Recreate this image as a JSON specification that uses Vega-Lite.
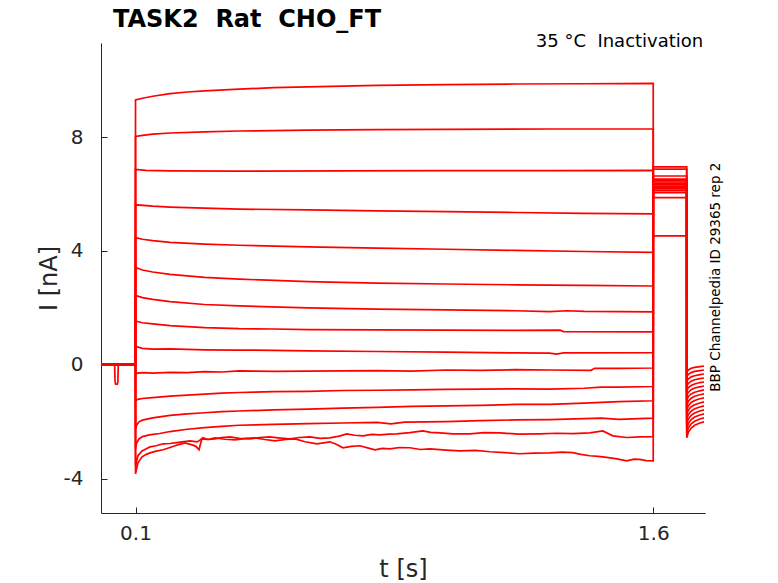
{
  "$schema": "https://vega.github.io/schema/vega-lite/v6.json",
  "width": 604,
  "height": 470,
  "autosize": {"type": "none"},
  "padding": {"left": 101, "top": 43, "right": 73, "bottom": 70},
  "background": "white",
  "config": {"view": {"stroke": null}, "font": "DejaVu Sans"},
  "title": {
    "text": "TASK2\u00a0 Rat\u00a0 CHO_FT",
    "anchor": "start",
    "frame": "group",
    "dx": 12,
    "offset": -18,
    "baseline": "alphabetic",
    "fontSize": 24,
    "fontWeight": "bold",
    "font": "DejaVu Sans",
    "color": "#000000"
  },
  "layer": [
    {
      "data": {"values": [
        {"s":1,"t":0,"v":0.02},{"s":1,"t":0.0395,"v":0.02},{"s":1,"t":0.0405,"v":-0.55},{"s":1,"t":0.042,"v":-0.67},{"s":1,"t":0.047,"v":-0.68},{"s":1,"t":0.049,"v":-0.6},{"s":1,"t":0.05,"v":0.03},{"s":1,"t":0.0999,"v":0.02},
        {"s":1,"t":0.1,"v":9.30},{"s":1,"t":0.12,"v":9.36},{"s":1,"t":0.15,"v":9.43},{"s":1,"t":0.2,"v":9.52},{"s":1,"t":0.25,"v":9.58},{"s":1,"t":0.3,"v":9.62},{"s":1,"t":0.4,"v":9.68},{"s":1,"t":0.5,"v":9.73},{"s":1,"t":0.6,"v":9.76},{"s":1,"t":0.8,"v":9.81},{"s":1,"t":1.0,"v":9.84},{"s":1,"t":1.2,"v":9.86},{"s":1,"t":1.4,"v":9.87},{"s":1,"t":1.6,"v":9.88},
        {"s":1,"t":1.6001,"v":4.47},{"s":1,"t":1.603,"v":4.53},{"s":1,"t":1.697,"v":4.53},{"s":1,"t":1.6971,"v":-0.25},{"s":1,"t":1.702,"v":-0.18},{"s":1,"t":1.71,"v":-0.12},{"s":1,"t":1.72,"v":-0.09},{"s":1,"t":1.735,"v":-0.06},{"s":1,"t":1.747,"v":-0.04},

        {"s":2,"t":0,"v":0.0},{"s":2,"t":0.0999,"v":0.0},
        {"s":2,"t":0.1,"v":8.02},{"s":2,"t":0.12,"v":8.06},{"s":2,"t":0.15,"v":8.10},{"s":2,"t":0.2,"v":8.14},{"s":2,"t":0.3,"v":8.18},{"s":2,"t":0.4,"v":8.21},{"s":2,"t":0.6,"v":8.24},{"s":2,"t":0.8,"v":8.26},{"s":2,"t":1.0,"v":8.27},{"s":2,"t":1.3,"v":8.28},{"s":2,"t":1.6,"v":8.28},
        {"s":2,"t":1.6001,"v":5.87},{"s":2,"t":1.697,"v":5.87},{"s":2,"t":1.6971,"v":-0.415},{"s":2,"t":1.702,"v":-0.33},{"s":2,"t":1.71,"v":-0.27},{"s":2,"t":1.72,"v":-0.23},{"s":2,"t":1.735,"v":-0.2},{"s":2,"t":1.747,"v":-0.18},

        {"s":3,"t":0,"v":0.04},{"s":3,"t":0.0999,"v":0.04},
        {"s":3,"t":0.1,"v":6.86},{"s":3,"t":0.13,"v":6.83},{"s":3,"t":0.2,"v":6.81},{"s":3,"t":0.4,"v":6.80},{"s":3,"t":0.7,"v":6.81},{"s":3,"t":1.0,"v":6.82},{"s":3,"t":1.3,"v":6.82},{"s":3,"t":1.6,"v":6.83},
        {"s":3,"t":1.6001,"v":6.05},{"s":3,"t":1.697,"v":6.05},{"s":3,"t":1.6971,"v":-0.58},{"s":3,"t":1.702,"v":-0.49},{"s":3,"t":1.71,"v":-0.42},{"s":3,"t":1.72,"v":-0.38},{"s":3,"t":1.735,"v":-0.34},{"s":3,"t":1.747,"v":-0.32},

        {"s":4,"t":0,"v":0.02},{"s":4,"t":0.0999,"v":0.02},
        {"s":4,"t":0.1,"v":5.62},{"s":4,"t":0.15,"v":5.57},{"s":4,"t":0.2,"v":5.54},{"s":4,"t":0.3,"v":5.50},{"s":4,"t":0.4,"v":5.47},{"s":4,"t":0.6,"v":5.44},{"s":4,"t":0.8,"v":5.41},{"s":4,"t":1.0,"v":5.38},{"s":4,"t":1.2,"v":5.35},{"s":4,"t":1.4,"v":5.32},{"s":4,"t":1.6,"v":5.30},
        {"s":4,"t":1.6001,"v":6.12},{"s":4,"t":1.697,"v":6.12},{"s":4,"t":1.6971,"v":-0.745},{"s":4,"t":1.702,"v":-0.65},{"s":4,"t":1.71,"v":-0.57},{"s":4,"t":1.72,"v":-0.52},{"s":4,"t":1.735,"v":-0.48},{"s":4,"t":1.747,"v":-0.46},

        {"s":5,"t":0,"v":0.0},{"s":5,"t":0.0999,"v":0.0},
        {"s":5,"t":0.1,"v":4.47},{"s":5,"t":0.12,"v":4.41},{"s":5,"t":0.15,"v":4.36},{"s":5,"t":0.2,"v":4.30},{"s":5,"t":0.3,"v":4.24},{"s":5,"t":0.4,"v":4.20},{"s":5,"t":0.6,"v":4.14},{"s":5,"t":0.8,"v":4.10},{"s":5,"t":1.0,"v":4.06},{"s":5,"t":1.2,"v":4.02},{"s":5,"t":1.4,"v":3.98},{"s":5,"t":1.6,"v":3.95},
        {"s":5,"t":1.6001,"v":6.18},{"s":5,"t":1.697,"v":6.18},{"s":5,"t":1.6971,"v":-0.91},{"s":5,"t":1.702,"v":-0.8},{"s":5,"t":1.71,"v":-0.72},{"s":5,"t":1.72,"v":-0.67},{"s":5,"t":1.735,"v":-0.62},{"s":5,"t":1.747,"v":-0.6},

        {"s":6,"t":0,"v":0.04},{"s":6,"t":0.0999,"v":0.04},
        {"s":6,"t":0.1,"v":3.42},{"s":6,"t":0.12,"v":3.33},{"s":6,"t":0.15,"v":3.26},{"s":6,"t":0.2,"v":3.18},{"s":6,"t":0.3,"v":3.07},{"s":6,"t":0.4,"v":3.01},{"s":6,"t":0.6,"v":2.92},{"s":6,"t":0.8,"v":2.87},{"s":6,"t":1.0,"v":2.84},{"s":6,"t":1.2,"v":2.81},{"s":6,"t":1.4,"v":2.79},{"s":6,"t":1.6,"v":2.77},
        {"s":6,"t":1.6001,"v":6.22},{"s":6,"t":1.697,"v":6.22},{"s":6,"t":1.6971,"v":-1.075},{"s":6,"t":1.702,"v":-0.96},{"s":6,"t":1.71,"v":-0.87},{"s":6,"t":1.72,"v":-0.81},{"s":6,"t":1.735,"v":-0.77},{"s":6,"t":1.747,"v":-0.74},

        {"s":7,"t":0,"v":0.02},{"s":7,"t":0.0999,"v":0.02},
        {"s":7,"t":0.1,"v":2.44},{"s":7,"t":0.12,"v":2.36},{"s":7,"t":0.15,"v":2.30},{"s":7,"t":0.2,"v":2.22},{"s":7,"t":0.3,"v":2.12},{"s":7,"t":0.4,"v":2.07},{"s":7,"t":0.6,"v":2.00},{"s":7,"t":0.8,"v":1.96},{"s":7,"t":1.0,"v":1.93},{"s":7,"t":1.2,"v":1.90},{"s":7,"t":1.3,"v":1.87},{"s":7,"t":1.35,"v":1.90},{"s":7,"t":1.4,"v":1.88},{"s":7,"t":1.6,"v":1.86},
        {"s":7,"t":1.6001,"v":6.27},{"s":7,"t":1.697,"v":6.27},{"s":7,"t":1.6971,"v":-1.24},{"s":7,"t":1.702,"v":-1.11},{"s":7,"t":1.71,"v":-1.02},{"s":7,"t":1.72,"v":-0.96},{"s":7,"t":1.735,"v":-0.91},{"s":7,"t":1.747,"v":-0.88},

        {"s":8,"t":0,"v":0.0},{"s":8,"t":0.0999,"v":0.0},
        {"s":8,"t":0.1,"v":1.54},{"s":8,"t":0.12,"v":1.48},{"s":8,"t":0.15,"v":1.44},{"s":8,"t":0.2,"v":1.38},{"s":8,"t":0.3,"v":1.31},{"s":8,"t":0.4,"v":1.27},{"s":8,"t":0.5,"v":1.26},{"s":8,"t":0.6,"v":1.24},{"s":8,"t":0.8,"v":1.23},{"s":8,"t":1.0,"v":1.22},{"s":8,"t":1.2,"v":1.21},{"s":8,"t":1.33,"v":1.22},{"s":8,"t":1.34,"v":1.17},{"s":8,"t":1.6,"v":1.16},
        {"s":8,"t":1.6001,"v":6.32},{"s":8,"t":1.697,"v":6.32},{"s":8,"t":1.6971,"v":-1.405},{"s":8,"t":1.702,"v":-1.27},{"s":8,"t":1.71,"v":-1.17},{"s":8,"t":1.72,"v":-1.1},{"s":8,"t":1.735,"v":-1.05},{"s":8,"t":1.747,"v":-1.02},

        {"s":9,"t":0,"v":0.04},{"s":9,"t":0.0999,"v":0.04},
        {"s":9,"t":0.1,"v":0.65},{"s":9,"t":0.12,"v":0.58},{"s":9,"t":0.15,"v":0.55},{"s":9,"t":0.2,"v":0.56},{"s":9,"t":0.3,"v":0.53},{"s":9,"t":0.4,"v":0.52},{"s":9,"t":0.5,"v":0.51},{"s":9,"t":0.6,"v":0.49},{"s":9,"t":0.8,"v":0.47},{"s":9,"t":1.0,"v":0.45},{"s":9,"t":1.2,"v":0.42},{"s":9,"t":1.3,"v":0.41},{"s":9,"t":1.32,"v":0.38},{"s":9,"t":1.34,"v":0.42},{"s":9,"t":1.6,"v":0.43},
        {"s":9,"t":1.6001,"v":6.37},{"s":9,"t":1.697,"v":6.37},{"s":9,"t":1.6971,"v":-1.57},{"s":9,"t":1.702,"v":-1.43},{"s":9,"t":1.71,"v":-1.32},{"s":9,"t":1.72,"v":-1.25},{"s":9,"t":1.735,"v":-1.19},{"s":9,"t":1.747,"v":-1.16},

        {"s":10,"t":0,"v":0.02},{"s":10,"t":0.0999,"v":0.02},
        {"s":10,"t":0.1,"v":-0.30},{"s":10,"t":0.12,"v":-0.27},{"s":10,"t":0.15,"v":-0.29},{"s":10,"t":0.2,"v":-0.26},{"s":10,"t":0.25,"v":-0.27},{"s":10,"t":0.3,"v":-0.24},{"s":10,"t":0.35,"v":-0.25},{"s":10,"t":0.4,"v":-0.21},{"s":10,"t":0.5,"v":-0.23},{"s":10,"t":0.6,"v":-0.22},{"s":10,"t":0.7,"v":-0.21},{"s":10,"t":0.8,"v":-0.20},{"s":10,"t":0.9,"v":-0.22},{"s":10,"t":1.0,"v":-0.18},{"s":10,"t":1.1,"v":-0.19},{"s":10,"t":1.2,"v":-0.17},{"s":10,"t":1.3,"v":-0.18},{"s":10,"t":1.42,"v":-0.19},{"s":10,"t":1.43,"v":-0.12},{"s":10,"t":1.5,"v":-0.12},{"s":10,"t":1.6,"v":-0.11},
        {"s":10,"t":1.6001,"v":6.42},{"s":10,"t":1.697,"v":6.42},{"s":10,"t":1.6971,"v":-1.735},{"s":10,"t":1.702,"v":-1.58},{"s":10,"t":1.71,"v":-1.47},{"s":10,"t":1.72,"v":-1.4},{"s":10,"t":1.735,"v":-1.34},{"s":10,"t":1.747,"v":-1.3},

        {"s":11,"t":0,"v":0.0},{"s":11,"t":0.0999,"v":0.0},
        {"s":11,"t":0.1,"v":-1.25},{"s":11,"t":0.11,"v":-1.20},{"s":11,"t":0.12,"v":-1.18},{"s":11,"t":0.15,"v":-1.15},{"s":11,"t":0.2,"v":-1.10},{"s":11,"t":0.25,"v":-1.06},{"s":11,"t":0.3,"v":-1.03},{"s":11,"t":0.35,"v":-0.99},{"s":11,"t":0.4,"v":-0.97},{"s":11,"t":0.5,"v":-0.94},{"s":11,"t":0.6,"v":-0.93},{"s":11,"t":0.7,"v":-0.90},{"s":11,"t":0.8,"v":-0.89},{"s":11,"t":0.9,"v":-0.88},{"s":11,"t":1.0,"v":-0.86},{"s":11,"t":1.1,"v":-0.85},{"s":11,"t":1.2,"v":-0.84},{"s":11,"t":1.3,"v":-0.85},{"s":11,"t":1.4,"v":-0.82},{"s":11,"t":1.45,"v":-0.78},{"s":11,"t":1.5,"v":-0.78},{"s":11,"t":1.6,"v":-0.76},
        {"s":11,"t":1.6001,"v":6.47},{"s":11,"t":1.697,"v":6.47},{"s":11,"t":1.6971,"v":-1.9},{"s":11,"t":1.702,"v":-1.74},{"s":11,"t":1.71,"v":-1.62},{"s":11,"t":1.72,"v":-1.54},{"s":11,"t":1.735,"v":-1.48},{"s":11,"t":1.747,"v":-1.44},

        {"s":12,"t":0,"v":0.04},{"s":12,"t":0.0999,"v":0.04},
        {"s":12,"t":0.1,"v":-2.25},{"s":12,"t":0.103,"v":-2.12},{"s":12,"t":0.11,"v":-2.00},{"s":12,"t":0.12,"v":-1.94},{"s":12,"t":0.15,"v":-1.86},{"s":12,"t":0.2,"v":-1.77},{"s":12,"t":0.25,"v":-1.72},{"s":12,"t":0.3,"v":-1.68},{"s":12,"t":0.35,"v":-1.64},{"s":12,"t":0.4,"v":-1.62},{"s":12,"t":0.5,"v":-1.58},{"s":12,"t":0.6,"v":-1.55},{"s":12,"t":0.7,"v":-1.52},{"s":12,"t":0.8,"v":-1.49},{"s":12,"t":0.9,"v":-1.46},{"s":12,"t":1.0,"v":-1.44},{"s":12,"t":1.1,"v":-1.42},{"s":12,"t":1.2,"v":-1.39},{"s":12,"t":1.3,"v":-1.39},{"s":12,"t":1.4,"v":-1.34},{"s":12,"t":1.5,"v":-1.29},{"s":12,"t":1.6,"v":-1.26},
        {"s":12,"t":1.6001,"v":6.52},{"s":12,"t":1.697,"v":6.52},{"s":12,"t":1.6971,"v":-2.065},{"s":12,"t":1.702,"v":-1.9},{"s":12,"t":1.71,"v":-1.77},{"s":12,"t":1.72,"v":-1.69},{"s":12,"t":1.735,"v":-1.62},{"s":12,"t":1.747,"v":-1.58},

        {"s":13,"t":0,"v":0.02},{"s":13,"t":0.0999,"v":0.02},
        {"s":13,"t":0.1,"v":-2.95},{"s":13,"t":0.103,"v":-2.75},{"s":13,"t":0.11,"v":-2.60},{"s":13,"t":0.12,"v":-2.52},{"s":13,"t":0.14,"v":-2.46},{"s":13,"t":0.17,"v":-2.41},{"s":13,"t":0.2,"v":-2.34},{"s":13,"t":0.25,"v":-2.26},{"s":13,"t":0.3,"v":-2.20},{"s":13,"t":0.35,"v":-2.16},{"s":13,"t":0.4,"v":-2.12},{"s":13,"t":0.5,"v":-2.09},{"s":13,"t":0.6,"v":-2.06},{"s":13,"t":0.7,"v":-2.04},{"s":13,"t":0.8,"v":-2.02},{"s":13,"t":0.84,"v":-2.07},{"s":13,"t":0.88,"v":-2.01},{"s":13,"t":1.0,"v":-1.99},{"s":13,"t":1.1,"v":-1.96},{"s":13,"t":1.2,"v":-1.93},{"s":13,"t":1.3,"v":-1.92},{"s":13,"t":1.45,"v":-1.87},{"s":13,"t":1.5,"v":-1.91},{"s":13,"t":1.6,"v":-1.87},
        {"s":13,"t":1.6001,"v":6.63},{"s":13,"t":1.697,"v":6.63},{"s":13,"t":1.6971,"v":-2.23},{"s":13,"t":1.702,"v":-2.05},{"s":13,"t":1.71,"v":-1.92},{"s":13,"t":1.72,"v":-1.83},{"s":13,"t":1.735,"v":-1.76},{"s":13,"t":1.747,"v":-1.72},

        {"s":14,"t":0,"v":0.0},{"s":14,"t":0.0999,"v":0.0},
        {"s":14,"t":0.1,"v":-3.54},{"s":14,"t":0.107,"v":-3.19},{"s":14,"t":0.119,"v":-3.02},{"s":14,"t":0.13,"v":-2.95},{"s":14,"t":0.142,"v":-2.88},{"s":14,"t":0.16,"v":-2.84},{"s":14,"t":0.18,"v":-2.77},{"s":14,"t":0.2,"v":-2.76},{"s":14,"t":0.214,"v":-2.74},{"s":14,"t":0.235,"v":-2.70},{"s":14,"t":0.258,"v":-2.67},{"s":14,"t":0.278,"v":-2.70},{"s":14,"t":0.285,"v":-2.66},{"s":14,"t":0.295,"v":-2.56},{"s":14,"t":0.31,"v":-2.62},{"s":14,"t":0.33,"v":-2.60},{"s":14,"t":0.35,"v":-2.55},{"s":14,"t":0.374,"v":-2.53},{"s":14,"t":0.4,"v":-2.58},{"s":14,"t":0.431,"v":-2.60},{"s":14,"t":0.46,"v":-2.55},{"s":14,"t":0.489,"v":-2.53},{"s":14,"t":0.52,"v":-2.57},{"s":14,"t":0.547,"v":-2.60},{"s":14,"t":0.575,"v":-2.55},{"s":14,"t":0.605,"v":-2.53},{"s":14,"t":0.635,"v":-2.58},{"s":14,"t":0.663,"v":-2.56},{"s":14,"t":0.69,"v":-2.50},{"s":14,"t":0.712,"v":-2.42},{"s":14,"t":0.735,"v":-2.47},{"s":14,"t":0.759,"v":-2.49},{"s":14,"t":0.785,"v":-2.44},{"s":14,"t":0.808,"v":-2.46},{"s":14,"t":0.835,"v":-2.43},{"s":14,"t":0.857,"v":-2.42},{"s":14,"t":0.895,"v":-2.38},{"s":14,"t":0.932,"v":-2.32},{"s":14,"t":0.955,"v":-2.37},{"s":14,"t":0.982,"v":-2.39},{"s":14,"t":1.02,"v":-2.42},{"s":14,"t":1.069,"v":-2.42},{"s":14,"t":1.11,"v":-2.38},{"s":14,"t":1.156,"v":-2.39},{"s":14,"t":1.21,"v":-2.43},{"s":14,"t":1.271,"v":-2.42},{"s":14,"t":1.32,"v":-2.40},{"s":14,"t":1.367,"v":-2.41},{"s":14,"t":1.416,"v":-2.39},{"s":14,"t":1.454,"v":-2.32},{"s":14,"t":1.483,"v":-2.49},{"s":14,"t":1.523,"v":-2.55},{"s":14,"t":1.561,"v":-2.53},{"s":14,"t":1.6,"v":-2.52},
        {"s":14,"t":1.6001,"v":6.87},{"s":14,"t":1.697,"v":6.87},{"s":14,"t":1.6971,"v":-2.395},{"s":14,"t":1.702,"v":-2.21},{"s":14,"t":1.71,"v":-2.07},{"s":14,"t":1.72,"v":-1.98},{"s":14,"t":1.735,"v":-1.9},{"s":14,"t":1.747,"v":-1.86},

        {"s":15,"t":0,"v":0.02},{"s":15,"t":0.0999,"v":0.02},
        {"s":15,"t":0.1,"v":-3.82},{"s":15,"t":0.107,"v":-3.44},{"s":15,"t":0.119,"v":-3.23},{"s":15,"t":0.13,"v":-3.15},{"s":15,"t":0.142,"v":-3.09},{"s":15,"t":0.16,"v":-3.03},{"s":15,"t":0.18,"v":-2.98},{"s":15,"t":0.2,"v":-2.90},{"s":15,"t":0.214,"v":-2.84},{"s":15,"t":0.23,"v":-2.78},{"s":15,"t":0.243,"v":-2.74},{"s":15,"t":0.264,"v":-2.81},{"s":15,"t":0.275,"v":-2.86},{"s":15,"t":0.284,"v":-2.98},{"s":15,"t":0.292,"v":-2.60},{"s":15,"t":0.31,"v":-2.62},{"s":15,"t":0.33,"v":-2.56},{"s":15,"t":0.36,"v":-2.61},{"s":15,"t":0.388,"v":-2.63},{"s":15,"t":0.42,"v":-2.58},{"s":15,"t":0.446,"v":-2.56},{"s":15,"t":0.475,"v":-2.62},{"s":15,"t":0.504,"v":-2.67},{"s":15,"t":0.535,"v":-2.62},{"s":15,"t":0.562,"v":-2.60},{"s":15,"t":0.591,"v":-2.70},{"s":15,"t":0.626,"v":-2.77},{"s":15,"t":0.663,"v":-2.70},{"s":15,"t":0.68,"v":-2.78},{"s":15,"t":0.701,"v":-2.91},{"s":15,"t":0.725,"v":-2.86},{"s":15,"t":0.75,"v":-2.84},{"s":15,"t":0.775,"v":-2.92},{"s":15,"t":0.794,"v":-2.98},{"s":15,"t":0.815,"v":-2.93},{"s":15,"t":0.837,"v":-2.95},{"s":15,"t":0.865,"v":-2.90},{"s":15,"t":0.895,"v":-2.91},{"s":15,"t":0.925,"v":-2.97},{"s":15,"t":0.953,"v":-2.95},{"s":15,"t":1.0,"v":-2.99},{"s":15,"t":1.04,"v":-3.02},{"s":15,"t":1.085,"v":-3.00},{"s":15,"t":1.127,"v":-3.05},{"s":15,"t":1.17,"v":-3.08},{"s":15,"t":1.213,"v":-3.12},{"s":15,"t":1.255,"v":-3.10},{"s":15,"t":1.3,"v":-3.09},{"s":15,"t":1.335,"v":-3.06},{"s":15,"t":1.367,"v":-3.08},{"s":15,"t":1.39,"v":-3.14},{"s":15,"t":1.416,"v":-3.19},{"s":15,"t":1.44,"v":-3.21},{"s":15,"t":1.465,"v":-3.25},{"s":15,"t":1.495,"v":-3.30},{"s":15,"t":1.523,"v":-3.37},{"s":15,"t":1.545,"v":-3.31},{"s":15,"t":1.561,"v":-3.32},{"s":15,"t":1.58,"v":-3.36},{"s":15,"t":1.6,"v":-3.37},
        {"s":15,"t":1.6001,"v":6.95},{"s":15,"t":1.697,"v":6.95},{"s":15,"t":1.6971,"v":-2.56},{"s":15,"t":1.702,"v":-2.36},{"s":15,"t":1.71,"v":-2.22},{"s":15,"t":1.72,"v":-2.12},{"s":15,"t":1.735,"v":-2.04},{"s":15,"t":1.747,"v":-2.0}
      ]},
      "mark": {"type": "line", "color": "#ff0000", "strokeWidth": 1.7, "clip": true},
      "encoding": {
        "x": {
          "field": "t",
          "type": "quantitative",
          "scale": {"domain": [0, 1.75], "nice": false, "zero": false},
          "axis": {
            "values": [0.1, 1.6],
            "format": ".1f",
            "title": "t [s]",
            "titleFontSize": 24,
            "titleFontWeight": "normal",
            "titleColor": "#262626",
            "titlePadding": 14,
            "labelFontSize": 20,
            "labelColor": "#262626",
            "labelPadding": 16,
            "labelFlush": false,
            "domainColor": "#262626",
            "tickColor": "#262626",
            "tickSize": -6,
            "grid": false
          }
        },
        "y": {
          "field": "v",
          "type": "quantitative",
          "scale": {"domain": [-5.2, 11.3], "nice": false, "zero": false},
          "axis": {
            "values": [-4, 0, 4, 8],
            "labelExpr": "replace(datum.label, '\u2212', '-')",
            "title": "I [nA]",
            "titleFontSize": 24,
            "titleFontWeight": "normal",
            "titleColor": "#262626",
            "titlePadding": 2,
            "labelFontSize": 20,
            "labelColor": "#262626",
            "labelPadding": 24,
            "labelFlush": false,
            "domainColor": "#262626",
            "tickColor": "#262626",
            "tickSize": -6,
            "grid": false
          }
        },
        "detail": {"field": "s", "type": "nominal"}
      }
    },
    {
      "data": {"values": [{}]},
      "mark": {"type": "text", "align": "right", "baseline": "alphabetic", "fontSize": 18, "font": "DejaVu Sans", "color": "#000000"},
      "encoding": {
        "x": {"datum": 1.745, "type": "quantitative"},
        "y": {"datum": 11.16, "type": "quantitative"},
        "text": {"value": "35 °C\u00a0 Inactivation"}
      }
    },
    {
      "data": {"values": [{}]},
      "mark": {"type": "text", "align": "center", "baseline": "middle", "angle": 270, "fontSize": 13.5, "font": "DejaVu Sans", "color": "#000000"},
      "encoding": {
        "x": {"datum": 1.782, "type": "quantitative"},
        "y": {"datum": 3.08, "type": "quantitative"},
        "text": {"value": "BBP Channelpedia ID 29365 rep 2"}
      }
    }
  ]
}
